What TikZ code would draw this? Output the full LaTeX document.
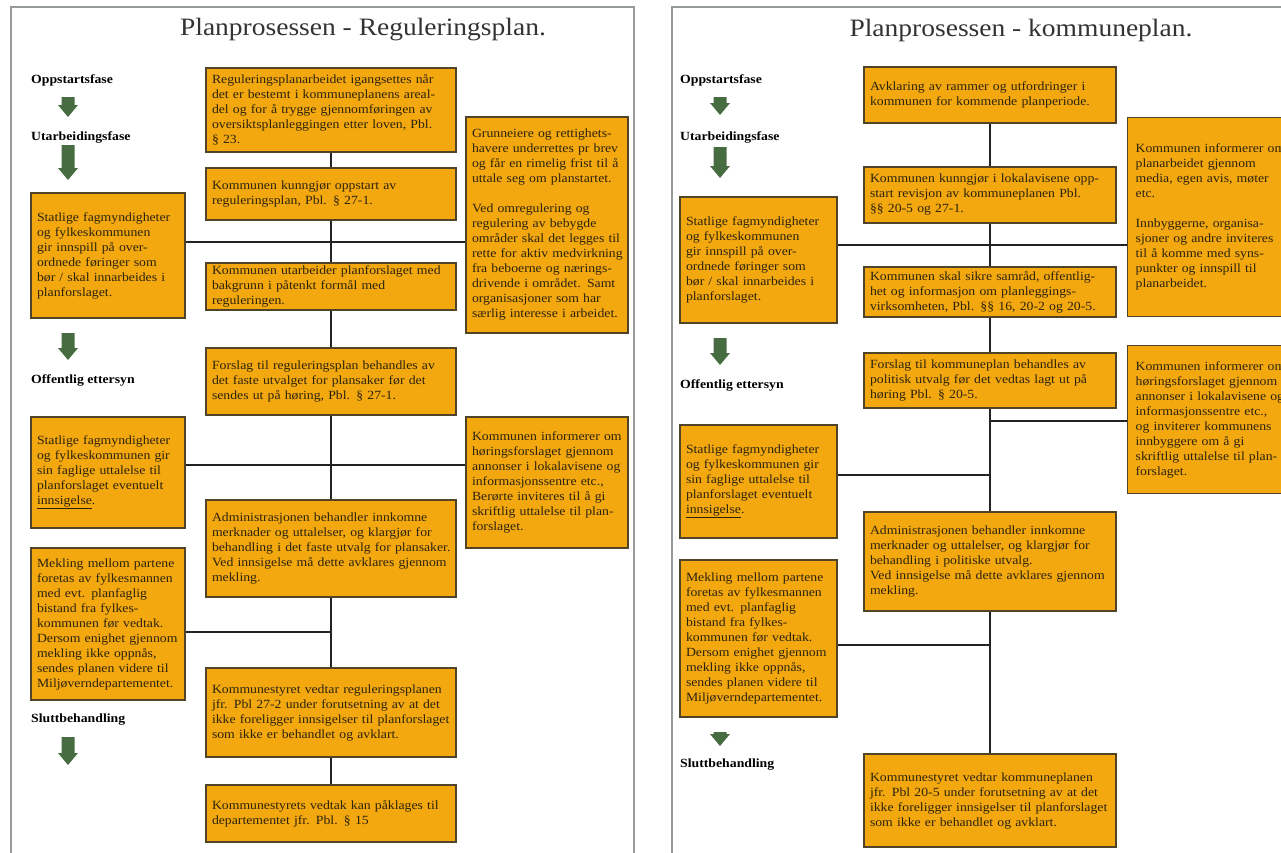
\documentclass[tikz,border=0pt]{standalone}
\usepackage{fontspec}
\setmainfont{Liberation Serif}[FakeStretch=1.1]
\usetikzlibrary{positioning}

\definecolor{planorange}{RGB}{242,168,14}
\definecolor{boxedge}{RGB}{80,68,40}
\definecolor{boxtext}{RGB}{45,35,15}
\definecolor{fasegreen}{RGB}{72,108,66}
\definecolor{linkgray}{RGB}{35,35,35}
\definecolor{framegray}{RGB}{150,155,155}

\begin{document}
\begin{tikzpicture}[x=1pt, y=-1pt,
    planbox/.style={draw=boxedge, line width=1.3pt, fill=planorange, text=boxtext,
        align=left, inner xsep=6pt, inner ysep=2pt,
        font=\fontsize{12.5}{15}\selectfont},
    midbox/.style={planbox, text width=238},
    sidebox/.style={planbox, text width=142},
    fase/.style={anchor=west, inner sep=0pt, font=\bfseries\fontsize{12.5}{15}\selectfont},
    titel/.style={inner sep=0pt, text=black!80, font=\fontsize{25}{30}\selectfont},
    link/.style={line width=2.2pt, draw=linkgray}]

% Bounding box
\useasboundingbox (0,0) rectangle (1281,852);
\clip (0,0) rectangle (1281,852);

% Panel frames
\draw[framegray, line width=2pt] (11,900) -- (11,7) -- (634,7) -- (634,900);
\draw[framegray, line width=2pt] (672,900) -- (672,7) -- (1300,7);

% Titles
\node[titel] (titelA) at (363,30) {Planprosessen - Reguleringsplan.};
\node[titel] (titelB) at (1021,30) {Planprosessen - kommuneplan.};

% Phases
\node[fase] (faseA1) at (31,80) {Oppstartsfase};
\node[fase] (faseA2) at (31,137) {Utarbeidingsfase};
\node[fase] (faseA3) at (31,380) {Offentlig ettersyn};
\node[fase] (faseA4) at (31,720) {Sluttbehandling};
\node[fase] (faseB1) at (680,80) {Oppstartsfase};
\node[fase] (faseB2) at (680,137) {Utarbeidingsfase};
\node[fase] (faseB3) at (680,385) {Offentlig ettersyn};
\node[fase] (faseB4) at (680,765) {Sluttbehandling};

% Phase arrows
\foreach \ax/\ya/\yb in {68/97/117, 68/145/180, 68/333/360, 68/737/765,
                         720/97/115, 720/147/178, 720/338/365, 720/732/746} {
    \fill[fasegreen] (\ax-6.5,\ya) -- (\ax+6.5,\ya) -- (\ax+6.5,\yb-12) -- (\ax+10,\yb-12)
        -- (\ax,\yb) -- (\ax-10,\yb-12) -- (\ax-6.5,\yb-12) -- cycle;
}

% Reguleringsplan: main column
\node[midbox, minimum height=84] (a1) at (331,110)
    {Reguleringsplanarbeidet igangsettes når\\det er bestemt i kommuneplanens areal-\\del og for å trygge gjennomføringen av\\oversiktsplanleggingen etter loven, Pbl.\\§ 23.};
\node[midbox, minimum height=52] (a2) at (331,194)
    {Kommunen kunngjør oppstart av\\reguleringsplan, Pbl. § 27-1.};
\node[midbox, minimum height=47] (a3) at (331,286.5)
    {Kommunen utarbeider planforslaget med\\bakgrunn i påtenkt formål med\\reguleringen.};
\node[midbox, minimum height=67] (a4) at (331,381.5)
    {Forslag til reguleringsplan behandles av\\det faste utvalget for plansaker før det\\sendes ut på høring, Pbl. § 27-1.};
\node[midbox, minimum height=97] (a5) at (331,548.5)
    {Administrasjonen behandler innkomne\\merknader og uttalelser, og klargjør for\\\mbox{behandling i det faste utvalg for plansaker.}\\Ved innsigelse må dette avklares gjennom\\mekling.};
\node[midbox, minimum height=89] (a6) at (331,712.5)
    {Kommunestyret vedtar reguleringsplanen\\jfr. Pbl 27-2 under forutsetning av at det\\ikke foreligger innsigelser til planforslaget\\som ikke er behandlet og avklart.};
\node[midbox, minimum height=57] (a7) at (331,813.5)
    {Kommunestyrets vedtak kan påklages til\\departementet jfr. Pbl. § 15};

% Reguleringsplan: side boxes
\node[sidebox, minimum height=125] (al1) at (108,255.5)
    {Statlige fagmyndigheter\\og fylkeskommunen\\gir innspill på over-\\ordnede føringer som\\bør / skal innarbeides i\\planforslaget.};
\node[sidebox, minimum height=111] (al2) at (108,472.5)
    {Statlige fagmyndigheter\\og fylkeskommunen gir\\sin faglige uttalelse til\\planforslaget eventuelt\\\underline{innsigelse}.};
\node[sidebox, minimum height=152] (al3) at (108,624)
    {Mekling mellom partene\\foretas av fylkesmannen\\med evt. planfaglig\\bistand fra fylkes-\\kommunen før vedtak.\\Dersom enighet gjennom\\mekling ikke oppnås,\\sendes planen videre til\\Miljøverndepartementet.};
\node[planbox, text width=150, minimum height=216] (ar1) at (547,225)
    {Grunneiere og rettighets-\\havere underrettes pr brev\\og får en rimelig frist til å\\uttale seg om planstartet.\\[15pt]Ved omregulering og\\regulering av bebygde\\områder skal det legges til\\\mbox{rette for aktiv medvirkning}\\fra beboerne og nærings-\\drivende i området. Samt\\organisasjoner som har\\særlig interesse i arbeidet.};
\node[planbox, text width=150, minimum height=131] (ar2) at (547,482.5)
    {Kommunen informerer om\\høringsforslaget gjennom\\annonser i lokalavisene og\\informasjonssentre etc.,\\Berørte inviteres til å gi\\skriftlig uttalelse til plan-\\forslaget.};

% Kommuneplan: main column
\node[midbox, text width=240, minimum height=56] (b1) at (990,95)
    {Avklaring av rammer og utfordringer i\\kommunen for kommende planperiode.};
\node[midbox, text width=240, minimum height=56] (b2) at (990,195)
    {Kommunen kunngjør i lokalavisene opp-\\start revisjon av kommuneplanen Pbl.\\§§ 20-5 og 27-1.};
\node[midbox, text width=240, minimum height=50] (b3) at (990,292)
    {Kommunen skal sikre samråd, offentlig-\\het og informasjon om planleggings-\\virksomheten, Pbl. §§ 16, 20-2 og 20-5.};
\node[midbox, text width=240, minimum height=55] (b4) at (990,380.5)
    {Forslag til kommuneplan behandles av\\politisk utvalg før det vedtas lagt ut på\\høring Pbl. § 20-5.};
\node[midbox, text width=240, minimum height=99] (b5) at (990,561.5)
    {Administrasjonen behandler innkomne\\merknader og uttalelser, og klargjør for\\behandling i politiske utvalg.\\Ved innsigelse må dette avklares gjennom\\mekling.};
\node[midbox, text width=240, minimum height=93] (b6) at (990,800.5)
    {Kommunestyret vedtar kommuneplanen\\jfr. Pbl 20-5 under forutsetning av at det\\ikke foreligger innsigelser til planforslaget\\som ikke er behandlet og avklart.};

% Kommuneplan: side boxes
\node[sidebox, text width=145, minimum height=126] (bl1) at (758.5,260)
    {Statlige fagmyndigheter\\og fylkeskommunen\\gir innspill på over-\\ordnede føringer som\\bør / skal innarbeides i\\planforslaget.};
\node[sidebox, text width=145, minimum height=113] (bl2) at (758.5,481.5)
    {Statlige fagmyndigheter\\og fylkeskommunen gir\\sin faglige uttalelse til\\planforslaget eventuelt\\\underline{innsigelse}.};
\node[sidebox, text width=145, minimum height=157] (bl3) at (758.5,638.5)
    {Mekling mellom partene\\foretas av fylkesmannen\\med evt. planfaglig\\bistand fra fylkes-\\kommunen før vedtak.\\Dersom enighet gjennom\\mekling ikke oppnås,\\sendes planen videre til\\Miljøverndepartementet.};
\node[planbox, anchor=north west, inner xsep=8pt, text width=160, minimum height=199] (br1) at (1127,117)
    {Kommunen informerer om\\planarbeidet gjennom\\media, egen avis, møter\\etc.\\[15pt]Innbyggerne, organisa-\\sjoner og andre inviteres\\til å komme med syns-\\punkter og innspill til\\planarbeidet.};
\node[planbox, anchor=north west, inner xsep=8pt, text width=160, minimum height=148] (br2) at (1127,345)
    {Kommunen informerer om\\høringsforslaget gjennom\\annonser i lokalavisene og\\informasjonssentre etc.,\\og inviterer kommunens\\innbyggere om å gi\\skriftlig uttalelse til plan-\\forslaget.};

% Junctions
\coordinate (ja1) at (331,242);
\coordinate (ja2) at (331,465);
\coordinate (ja3) at (331,632);
\coordinate (jb1) at (990,245);
\coordinate (jb2) at (990,421);
\coordinate (jb3) at (990,475);
\coordinate (jb4) at (990,645);

% Connectors
\draw[link] (a1) -- (a2);
\draw[link] (a2) -- (a3);
\draw[link] (a3) -- (a4);
\draw[link] (a4) -- (a5);
\draw[link] (a5) -- (a6);
\draw[link] (a6) -- (a7);
\draw[link] (ja1 -| al1.east) -- (ja1 -| ar1.west);
\draw[link] (ja2 -| al2.east) -- (ja2 -| ar2.west);
\draw[link] (ja3 -| al3.east) -- (ja3);

\draw[link] (b1) -- (b2);
\draw[link] (b2) -- (b3);
\draw[link] (b3) -- (b4);
\draw[link] (b4) -- (b5);
\draw[link] (b5) -- (b6);
\draw[link] (jb1 -| bl1.east) -- (jb1 -| br1.west);
\draw[link] (jb2) -- (jb2 -| br2.west);
\draw[link] (jb3 -| bl2.east) -- (jb3);
\draw[link] (jb4 -| bl3.east) -- (jb4);

\end{tikzpicture}
\end{document}
